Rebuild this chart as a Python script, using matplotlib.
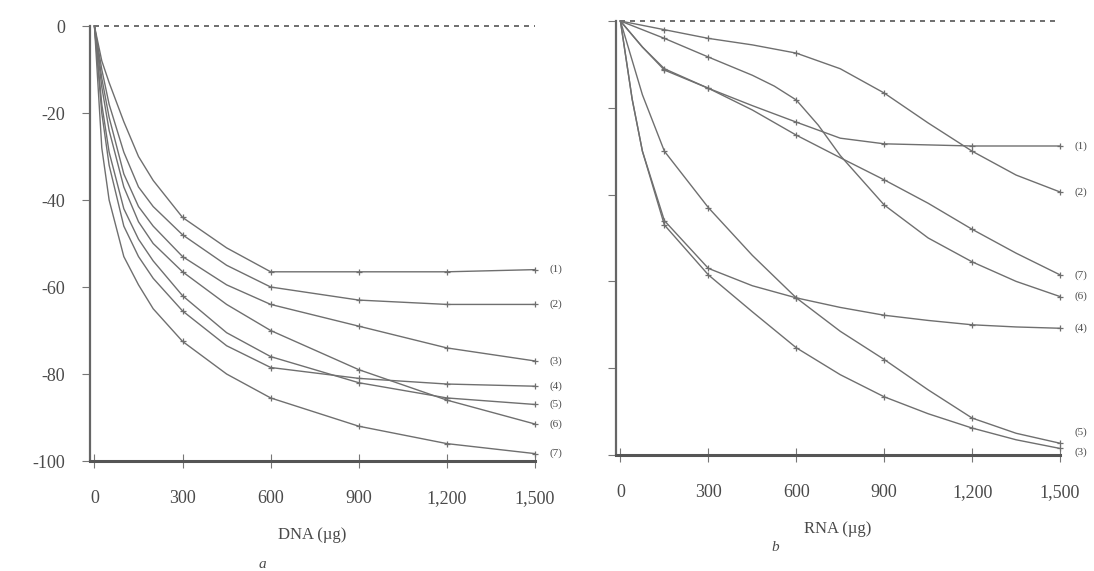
import matplotlib.pyplot as plt

plt.rcParams['font.family'] = ['Liberation Serif', 'DejaVu Serif']
plt.rcParams['axes.unicode_minus'] = False

# panel a: DNA (ug) vs change (%)
dna_x = [0, 25, 50, 100, 150, 200, 300, 450, 600, 900, 1200, 1500]
dna_curves = {
    '(1)': [0, -8, -13, -22, -30, -35.5, -44, -51, -56.5, -56.5, -56.5, -56],
    '(2)': [0, -10, -18, -29, -37, -41.5, -48, -55, -60, -63, -64, -64],
    '(3)': [0, -12, -21, -34, -41.5, -46, -53, -59.5, -64, -69, -74, -77],
    '(4)': [0, -20, -32, -46, -53, -58, -65.5, -73.5, -78.5, -81, -82.3, -82.8],
    '(5)': [0, -18, -29, -42, -49, -54, -62, -70.5, -76, -82, -85.5, -87],
    '(6)': [0, -14, -24, -37, -45, -50, -56.5, -64, -70, -79, -86, -91.5],
    '(7)': [0, -28, -40, -53, -59.5, -65, -72.5, -80, -85.5, -92, -96, -98.3],
}
dna_marks = [300, 600, 900, 1200, 1500]

# panel b: RNA (ug)
rna_curves = {
    '(1)': ([0, 75, 150, 300, 450, 600, 750, 900, 1200, 1500],
            [0, -6, -11, -15.5, -19.5, -23.3, -27, -28.3, -28.8, -28.8]),
    '(2)': ([0, 150, 300, 450, 600, 750, 900, 1050, 1200, 1350, 1500],
            [0, -2, -4, -5.5, -7.4, -11, -16.6, -23.5, -30, -35.5, -39.4]),
    '(7)': ([0, 75, 150, 300, 450, 600, 750, 900, 1050, 1200, 1350, 1500],
            [0, -6, -11.3, -15.5, -20.5, -26.3, -31.5, -36.6, -42, -48, -53.5, -58.5]),
    '(6)': ([0, 150, 300, 450, 525, 600, 675, 750, 900, 1050, 1200, 1350, 1500],
            [0, -4, -8.3, -12.5, -15, -18.2, -24, -31, -42.4, -50, -55.5, -60, -63.5]),
    '(4)': ([0, 40, 75, 150, 300, 450, 600, 750, 900, 1050, 1200, 1350, 1500],
            [0, -18, -30, -46, -57, -61, -63.8, -66, -67.8, -69, -70, -70.5, -70.8]),
    '(5)': ([0, 75, 150, 300, 450, 600, 750, 900, 1050, 1200, 1350, 1500],
            [0, -17, -30, -43, -54, -63.8, -71.5, -78, -85, -91.5, -95, -97.3]),
    '(3)': ([0, 40, 75, 150, 300, 450, 600, 750, 900, 1050, 1200, 1350, 1500],
            [0, -18, -30, -47, -58.5, -67, -75.3, -81.5, -86.6, -90.5, -93.8, -96.5, -98.5]),
}
rna_marks = [150, 300, 600, 900, 1200, 1500]
rna_label_shift = {'(5)': 2.5, '(3)': -0.8}

x_ticks = [0, 300, 600, 900, 1200, 1500]
x_ticklabels = ['0', '300', '600', '900', '1,200', '1,500']
y_ticks = [0, -20, -40, -60, -80, -100]

line_col = '#6f6f6f'
text_col = '#4a4a4a'

fig = plt.figure(figsize=(10.94, 5.71), dpi=100)
ax1 = fig.add_axes([0.0823, 0.1926, 0.4068, 0.7618])
ax2 = fig.add_axes([0.5631, 0.2032, 0.4059, 0.7600])

for ax in (ax1, ax2):
    ax.set_xlim(-15, 1500)
    ax.set_ylim(-100, 0)
    for s in ('top', 'right'):
        ax.spines[s].set_visible(False)
    ax.spines['left'].set_color('#666666')
    ax.spines['left'].set_linewidth(1.6)
    ax.spines['bottom'].set_color('#555555')
    ax.spines['bottom'].set_linewidth(2.2)
    ax.hlines(0, x_ticks[0], x_ticks[-1], colors='#555555', linestyles=(0, (3, 3)),
              linewidth=1.2, clip_on=False)
    ax.set_xticks(x_ticks)
    ax.set_xticklabels(x_ticklabels)
    ax.set_yticks(y_ticks)
    ax.tick_params(axis='x', direction='inout', length=10, width=0.8, color='#777777',
                   labelsize=13, labelcolor=text_col, pad=16)
    ax.tick_params(axis='y', direction='out', length=6, width=0.8, color='#777777',
                   labelsize=13, labelcolor=text_col, pad=12)

ax2.set_yticklabels([])

for name, ys in dna_curves.items():
    idx = [i for i, v in enumerate(dna_x) if v in dna_marks]
    ax1.plot(dna_x, ys, color=line_col, lw=1.0, marker='+', ms=5, mew=0.9,
             markevery=idx, clip_on=False)
    ax1.text(1550, ys[-1], name, fontsize=8, color=text_col, va='center', ha='left')

for name, (xs, ys) in rna_curves.items():
    idx = [i for i, v in enumerate(xs) if v in rna_marks]
    ax2.plot(xs, ys, color=line_col, lw=1.0, marker='+', ms=5, mew=0.9,
             markevery=idx, clip_on=False)
    ax2.text(1550, ys[-1] + rna_label_shift.get(name, 0), name, fontsize=8,
             color=text_col, va='center', ha='left')

ax1.set_xlabel('DNA (µg)', fontsize=12, color=text_col, labelpad=14)
ax2.set_xlabel('RNA (µg)', fontsize=12, color=text_col, labelpad=14)
fig.text(0.240, 0.005, 'a', fontsize=11, style='italic', color=text_col, ha='center')
fig.text(0.709, 0.035, 'b', fontsize=11, style='italic', color=text_col, ha='center')

fig.savefig('out.png', dpi=100)
